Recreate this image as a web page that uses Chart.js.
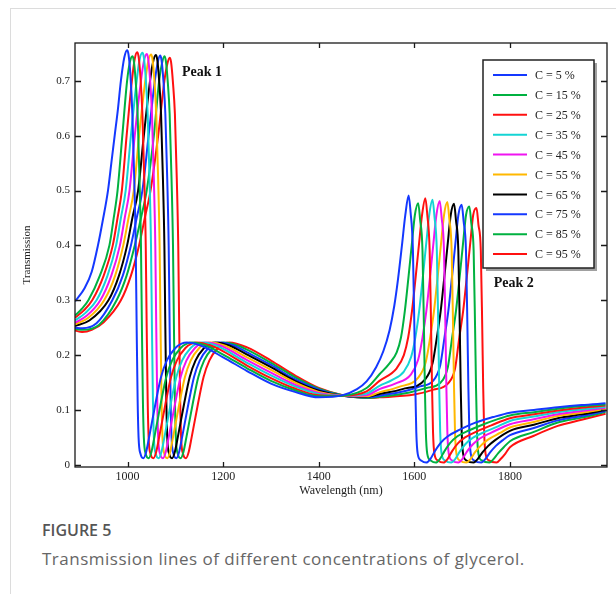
<!DOCTYPE html>
<html>
<head>
<meta charset="utf-8">
<script src="https://cdn.jsdelivr.net/npm/chart.js@4.4.1/dist/chart.umd.min.js"></script>
<style>
  body { margin: 0; background: #fff; width: 616px; height: 594px; overflow: hidden; position: relative; }
  #box { position: absolute; left: 10px; top: 8px; right: 0; bottom: 0; border-left: 1px solid #dcdcdc; border-top: 1px solid #dcdcdc; }
  #wrap { position: absolute; left: 0; top: 0; width: 616px; height: 505px; }
  #fig { position: absolute; left: 42px; top: 519px; font: 600 16px 'Open Sans', sans-serif; color: #555; }
  #cap { position: absolute; left: 42px; top: 547px; font: 17px 'Open Sans', sans-serif; letter-spacing: 0.5px; color: #666; }
</style>
</head>
<body>
<div id="box"></div>
<div id="wrap"><canvas id="chart" width="616" height="505"></canvas></div>
<div id="fig">FIGURE 5</div>
<div id="cap">Transmission lines of different concentrations of glycerol.</div>
<script>
// glycerol concentration (%) and line colours
const concs = [5, 15, 25, 35, 45, 55, 65, 75, 85, 95];
const lineColors = ['#1438ff', '#00b140', '#ff1010', '#14d4d4', '#f014f0', '#ffb800', '#000000', '#1438ff', '#00b140', '#ff1010'];

const xTicks = [1000, 1200, 1400, 1600, 1800];
const yTicks = [0, 0.1, 0.2, 0.3, 0.4, 0.5, 0.6, 0.7];

// wavelength (nm) / transmission, one pair per curve
const wl05 = [890,910,925,938,948,959,966,973,980,986,993,999, 1002,1006,1010,1014,1017,1019,1021,1023,1027,1033, 1039,1045,1058,1070,1082,1100,1113,1124, 1154,1200,1250,1300,1350,1400,1450,1480,1500,1520,1535, 1548,1558,1566,1574,1581,1588,1592,1597,1600,1602,1604,1607,1614,1625, 1633,1643,1655,1670,1695,1725,1765,1800,1850,1900,1950,2000];
const tr05 = [.298,.322,.352,.4,.445,.5,.55,.6,.65,.7,.742,.756, .748,.71,.64,.52,.40,.25,.12,.05,.02,.012, .024,.05,.11,.16,.19,.213,.221,.223, .217,.196,.171,.148,.133,.123,.127,.138,.152,.178,.207, .245,.29,.34,.40,.455,.491,.461,.39,.25,.14,.06,.02,.008,.004, .01,.025,.04,.052,.064,.076,.087,.095,.100,.105,.109,.112];

const wl15 = [890,904,918,942,962,971,979,989,999,1005,1010, 1013,1017,1021,1025,1028,1030,1032,1034,1038,1044, 1050,1056,1069,1081,1093,1111,1124,1135, 1165,1200,1250,1300,1350,1400,1450,1500,1527,1548,1563, 1572,1580,1588,1595,1601,1608,1612,1617,1620,1622,1624,1627,1634,1645, 1653,1663,1675,1690,1715,1745,1770,1800,1850,1900,1950,2000];
const tr15 = [.272,.284,.3,.345,.4,.45,.5,.6,.7,.735,.745, .737,.699,.64,.52,.40,.25,.12,.05,.02,.012, .024,.05,.11,.16,.19,.213,.221,.223, .217,.201,.176,.153,.136,.125,.126,.140,.165,.185,.205, .232,.28,.345,.405,.455,.477,.447,.39,.25,.14,.06,.02,.008,.004, .01,.025,.04,.052,.063,.074,.082,.090,.096,.102,.107,.110];

const wl25 = [890,908,926,950,969,979,988,998,1009,1015,1020, 1023,1027,1031,1035,1038,1040,1042,1044,1048,1054, 1060,1066,1079,1091,1103,1121,1134,1145, 1175,1200,1250,1300,1350,1400,1450,1500,1527,1563,1578, 1587,1595,1603,1610,1616,1623,1627,1632,1635,1637,1639,1642,1649,1661, 1669,1679,1691,1706,1731,1761,1800,1850,1900,1950,2000];
const tr25 = [.268,.281,.3,.345,.4,.45,.5,.6,.7,.74,.752, .744,.706,.64,.52,.40,.25,.12,.05,.02,.012, .024,.05,.11,.16,.19,.213,.221,.223, .217,.207,.181,.158,.139,.127,.126,.134,.153,.176,.200, .232,.28,.345,.405,.455,.486,.456,.39,.25,.14,.06,.02,.008,.004, .01,.025,.039,.05,.061,.072,.085,.092,.099,.104,.108];

const wl35 = [890,912,935,958,976,986,996,1007,1019,1025,1031, 1034,1038,1042,1046,1049,1051,1053,1055,1059,1065, 1071,1077,1090,1102,1114,1132,1145,1156, 1186,1250,1300,1350,1400,1450,1500,1527,1552,1578,1593, 1602,1610,1618,1625,1631,1638,1642,1647,1650,1652,1654,1657,1664,1677, 1685,1695,1707,1722,1747,1775,1800,1850,1900,1950,2000];
const tr35 = [.263,.277,.3,.345,.4,.45,.5,.6,.7,.738,.751, .743,.705,.64,.52,.40,.25,.12,.05,.02,.012, .024,.05,.11,.16,.19,.213,.221,.223, .217,.186,.163,.143,.129,.126,.130,.144,.154,.170,.196, .232,.28,.345,.405,.455,.483,.453,.39,.25,.14,.06,.02,.008,.004, .01,.024,.038,.049,.06,.07,.080,.088,.096,.101,.106];

const wl45 = [890,915,943,966,984,994,1004,1015,1028,1034,1040, 1043,1047,1051,1055,1058,1060,1062,1064,1068,1074, 1080,1086,1099,1111,1123,1141,1154,1165, 1195,1250,1300,1350,1400,1450,1500,1527,1560,1593,1608, 1617,1625,1633,1640,1646,1653,1657,1662,1665,1667,1669,1672,1679,1692, 1700,1710,1722,1737,1762,1800,1850,1900,1950,2000];
const tr45 = [.259,.272,.3,.345,.4,.45,.5,.6,.7,.735,.749, .741,.703,.64,.52,.40,.25,.12,.05,.02,.012, .024,.05,.11,.16,.19,.213,.221,.223, .217,.191,.168,.146,.131,.126,.127,.138,.148,.165,.192, .232,.28,.345,.405,.455,.481,.451,.39,.25,.14,.06,.02,.008,.004, .01,.024,.037,.048,.059,.074,.083,.092,.098,.104];

const wl55 = [890,918,951,974,991,1002,1013,1024,1037,1043,1049, 1052,1056,1060,1064,1067,1069,1071,1073,1077,1083, 1089,1095,1108,1120,1132,1150,1163,1174, 1204,1250,1300,1350,1400,1450,1500,1527,1568,1609,1624, 1633,1641,1649,1656,1662,1669,1673,1678,1681,1683,1685,1688,1695,1709, 1717,1727,1739,1754,1779,1800,1850,1900,1950,2000];
const tr55 = [.256,.268,.3,.345,.4,.45,.5,.6,.7,.735,.748, .74,.702,.64,.52,.40,.25,.12,.05,.02,.012, .024,.05,.11,.16,.19,.213,.221,.223, .217,.196,.173,.150,.133,.126,.125,.132,.142,.160,.188, .232,.28,.345,.405,.455,.479,.449,.39,.25,.14,.06,.02,.008,.004, .01,.023,.035,.046,.058,.068,.078,.089,.095,.102];

const wl65 = [890,920,960,982,999,1010,1022,1034,1047,1053,1059, 1062,1066,1070,1074,1077,1079,1081,1083,1087,1093, 1099,1105,1118,1130,1142,1160,1173,1184, 1214,1250,1300,1350,1400,1450,1500,1527,1575,1623,1638, 1647,1655,1663,1670,1676,1683,1687,1692,1695,1697,1699,1702,1709,1724, 1732,1742,1754,1769,1800,1850,1900,1950,2000];
const tr65 = [.253,.263,.3,.345,.4,.45,.5,.6,.7,.733,.747, .739,.701,.64,.52,.40,.25,.12,.05,.02,.012, .024,.05,.11,.16,.19,.213,.221,.223, .217,.201,.178,.153,.135,.126,.124,.129,.138,.156,.185, .232,.28,.345,.405,.455,.476,.446,.39,.25,.14,.06,.02,.008,.004, .01,.022,.034,.045,.062,.073,.085,.092,.100];

const wl75 = [890,905,935,968,990,1007,1019,1031,1044,1057,1063,1068, 1071,1075,1079,1083,1086,1088,1090,1092,1096,1102, 1108,1114,1127,1139,1151,1169,1182,1193, 1223,1250,1300,1350,1400,1450,1500,1527,1583,1612,1639,1654, 1663,1671,1679,1686,1692,1699,1703,1708,1711,1713,1715,1718,1725,1740, 1748,1758,1770,1785,1800,1850,1900,1950,2000];
const tr75 = [.250,.249,.258,.3,.345,.4,.45,.5,.6,.7,.733,.746, .738,.70,.64,.52,.40,.25,.12,.05,.02,.012, .024,.05,.11,.16,.19,.213,.221,.223, .217,.205,.182,.156,.137,.126,.123,.126,.135,.143,.153,.181, .232,.28,.345,.405,.455,.474,.444,.39,.25,.14,.06,.02,.008,.004, .01,.022,.034,.045,.054,.067,.081,.089,.098];

const wl85 = [890,905,940,977,998,1015,1028,1040,1055,1066,1072,1077, 1080,1084,1088,1092,1095,1097,1099,1101,1105,1111, 1117,1123,1136,1148,1160,1178,1191,1202, 1232,1250,1300,1350,1400,1450,1500,1527,1590,1625,1655,1670, 1679,1687,1695,1702,1708,1715,1719,1724,1727,1729,1731,1734,1741,1757, 1765,1775,1787,1800,1850,1900,1950,2000];
const tr85 = [.248,.246,.255,.3,.345,.4,.45,.5,.6,.7,.732,.745, .737,.699,.64,.52,.40,.25,.12,.05,.02,.012, .024,.05,.11,.16,.19,.213,.221,.223, .217,.210,.186,.160,.139,.127,.122,.124,.132,.140,.150,.178, .232,.28,.345,.405,.455,.471,.441,.39,.25,.14,.06,.02,.008,.004, .01,.021,.032,.043,.060,.077,.086,.096];

const wl95 = [890,905,925,950,986,1007,1024,1036,1048,1064,1077,1083,1088, 1091,1095,1099,1103,1106,1108,1110,1112,1116,1122, 1128,1134,1147,1159,1171,1189,1202,1213, 1250,1300,1350,1400,1450,1500,1527,1600,1640,1670,1685, 1694,1702,1710,1717,1723,1730,1734,1739,1742,1744,1746,1749,1756,1772, 1780,1790,1800,1850,1900,1950,2000];
const tr95 = [.245,.242,.246,.26,.3,.345,.4,.45,.5,.6,.7,.73,.742, .734,.696,.64,.52,.40,.25,.12,.05,.02,.012, .024,.05,.11,.16,.19,.213,.221,.223, .214,.190,.163,.140,.127,.122,.123,.128,.137,.148,.175, .232,.28,.345,.405,.455,.468,.438,.39,.25,.14,.06,.02,.008,.004, .01,.02,.032,.053,.071,.082,.093];

const curves = [[wl05, tr05], [wl15, tr15], [wl25, tr25], [wl35, tr35], [wl45, tr45],
                [wl55, tr55], [wl65, tr65], [wl75, tr75], [wl85, tr85], [wl95, tr95]];

const serif = "'Liberation Serif', 'Times New Roman', serif";

// frame with inward ticks, the boxed legend and the two peak notes
const extras = {
  id: 'extras',
  afterDraw(chart) {
    const { ctx, chartArea: a, scales: { x, y } } = chart;
    ctx.save();
    ctx.strokeStyle = '#1a1a1a';
    ctx.lineWidth = 1.3;
    ctx.strokeRect(a.left, a.top, a.right - a.left, a.bottom - a.top);
    ctx.beginPath();
    xTicks.forEach(v => {
      const px = Math.round(x.getPixelForValue(v)) + 0.5;
      ctx.moveTo(px, a.bottom); ctx.lineTo(px, a.bottom - 5);
      ctx.moveTo(px, a.top); ctx.lineTo(px, a.top + 5);
    });
    yTicks.forEach(v => {
      const py = Math.round(y.getPixelForValue(v)) + 0.5;
      ctx.moveTo(a.left, py); ctx.lineTo(a.left + 6, py);
      ctx.moveTo(a.right, py); ctx.lineTo(a.right - 6, py);
    });
    ctx.stroke();

    // legend box
    const bx = 483, by = 60, bw = 111, bh = 208;
    ctx.fillStyle = '#a0a0a0';
    ctx.fillRect(bx + 3, by + 3, bw, bh);
    ctx.fillStyle = '#fff';
    ctx.fillRect(bx, by, bw, bh);
    ctx.strokeStyle = '#222';
    ctx.lineWidth = 1.5;
    ctx.strokeRect(bx, by, bw, bh);
    ctx.font = '12px ' + serif;
    ctx.textBaseline = 'middle';
    chart.data.datasets.forEach((ds, i) => {
      const ly = by + 15 + i * 19.9;
      ctx.strokeStyle = ds.borderColor;
      ctx.lineWidth = 2;
      ctx.beginPath();
      ctx.moveTo(bx + 10, ly); ctx.lineTo(bx + 44, ly);
      ctx.stroke();
      ctx.fillStyle = '#222';
      ctx.fillText(ds.label, bx + 52, ly + 1);
    });

    ctx.font = 'bold 14px ' + serif;
    ctx.fillStyle = '#111';
    ctx.fillText('Peak 1', x.getPixelForValue(1114), y.getPixelForValue(0.716));
    ctx.fillText('Peak 2', x.getPixelForValue(1766), y.getPixelForValue(0.331));
    ctx.restore();
  }
};

new Chart(document.getElementById('chart'), {
  type: 'line',
  data: {
    datasets: curves.map((c, i) => ({
      label: 'C = ' + concs[i] + ' %',
      data: c[0].map((w, j) => ({ x: w, y: c[1][j] })),
      borderColor: lineColors[i],
      borderWidth: 2,
      pointRadius: 0,
      cubicInterpolationMode: 'monotone',
      fill: false
    }))
  },
  options: {
    responsive: false,
    animation: false,
    layout: { padding: { left: 0, top: 43, right: 9, bottom: 0 } },
    plugins: { legend: { display: false }, tooltip: { enabled: false } },
    scales: {
      x: {
        type: 'linear',
        min: 890,
        max: 2003,
        afterBuildTicks: s => { s.ticks = xTicks.map(v => ({ value: v })); },
        afterFit: s => { s.height = 38; },
        grid: { display: false, drawTicks: false },
        border: { display: false },
        ticks: { padding: 3, color: '#222', font: { family: serif, size: 12 }, callback: v => String(v) },
        title: { display: true, text: 'Wavelength (nm)', color: '#222', font: { family: serif, size: 12 }, padding: { top: 0, bottom: 7 } }
      },
      y: {
        min: -0.004,
        max: 0.769,
        afterBuildTicks: s => { s.ticks = yTicks.map(v => ({ value: v })); },
        afterFit: s => { s.width = 75; },
        grid: { display: false, drawTicks: false },
        border: { display: false },
        ticks: { padding: 5, color: '#222', font: { family: serif, size: 11 }, callback: v => v === 0 ? '0' : v.toFixed(1) },
        title: { display: true, text: 'Transmission', color: '#222', font: { family: serif, size: 11 }, padding: { top: 21, bottom: 0 } }
      }
    }
  },
  plugins: [extras]
});
</script>
</body>
</html>
